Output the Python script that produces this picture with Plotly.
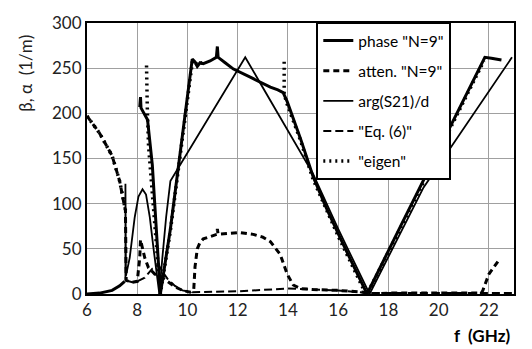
import plotly.graph_objects as go

# ---------------- data ----------------
phase_f = [6.0, 6.5, 7.0, 7.3, 7.5, None,
           8.10, 8.13, 8.15, 8.41, 8.6, 8.72, 8.84, 8.92, 9.32, 9.8, 10.19, 10.3, 10.39, 10.5, 10.63,
           10.9, 11.15, 11.19, 11.22, 11.5, 11.83, 12.5, 13.3, 13.6, 13.81, 13.97, 14.5, 15.0, 15.5, 16.08,
           16.5, 16.87, 17.15, 18.5, 20.0, 21.0, 21.84, 22.1, 22.5]
phase_b = [0, 1, 4, 9, 14, None,
           207, 218, 206, 193, 143, 90, 36, 0, 72, 175, 260, 257, 252, 256, 255,
           258, 262, 274, 262, 256, 249, 240, 229, 226, 223, 213, 172, 130, 97, 62,
           37, 15, 0, 76, 160, 216, 262, 261, 259]

atten_f = [6.0, 6.5, 7.0, 7.3, 7.5, 7.53, 7.56, 7.8, 8.0, 8.1, 8.13, 8.2, 8.3, 8.45, 8.7, 8.9, 9.2, 9.5, 9.8,
           10.1, 10.25, 10.3, 10.39, 10.5, 10.63, 11.0, 11.17, 11.19, 11.22, 11.6, 12.1, 12.62, 13.0, 13.3,
           13.69, 13.97, 14.21, 14.5, 15.0, 16.0, 17.0, 17.2, 18.0, 20.0, 21.7, 21.76, 22.0, 22.36]
atten_a = [197, 178, 153, 125, 96, 93, 15, 13, 14, 40, 60, 52, 40, 29, 22, 20, 14, 8, 4,
           2, 5, 30, 50, 57, 61, 64, 66, 72, 66, 67, 68, 66, 63, 58,
           44, 22, 10, 6, 5, 4, 2, 0, 1, 1, 1, 4, 22, 36]

arg_f = [7.53, 7.53, 7.55, 7.7, 7.9, 8.05, 8.21, 8.35, 8.5, 8.65, 8.8, 8.88, 9.0, 9.15, 9.32,
         12.3, 13.45, 15.0, 16.0, 17.25, 19.4, 22.92]
arg_b = [15, 122, 20, 40, 85, 108, 116, 110, 85, 50, 15, 0, 40, 85, 125,
         262, 207, 133, 72, 0, 118, 262]

eq6_f = [7.56, 7.8, 8.0, 8.3, 8.6, 8.85, 9.0, 9.2, 9.5, 9.8, 10.2, 12.0, 14.0, 15.0, 16.0, 17.2, 20.0, 23.0]
eq6_a = [15, 13, 14, 18, 28, 32, 25, 17, 9, 4, 2, 3, 6, 5, 4, 1, 1, 1]

eigen_f = [6.0, 6.5, 7.0, 7.3, 7.53, None,
           8.37, 8.37, 8.40, 8.45, 8.6, 8.72, 8.84, 8.92, 9.32, 9.8, 10.15, 10.2, 10.4, 10.6, None,
           13.85, 13.85, 13.97, 14.5, 15.0, 16.0, 17.1, 17.15, 18.5, 20.0, 21.0, 21.8]
eigen_b = [197, 178, 153, 125, 93, None,
           253, 230, 207, 164, 111, 68, 26, 0, 70, 173, 250, 258, 254, 256, None,
           257, 221, 210, 170, 127, 64, 0, 0, 74, 158, 213, 258]

x_ticks = [6, 8, 10, 12, 14, 16, 18, 20, 22]
y_ticks = [0, 50, 100, 150, 200, 250, 300]

# ---------------- figure ----------------
FONT = "Lato"
fig = go.Figure()

fig.add_trace(go.Scatter(x=phase_f, y=phase_b, mode="lines", name='phase "N=9"', legendgroup="a",
                         line=dict(color="black", width=3)))
fig.add_trace(go.Scatter(x=atten_f, y=atten_a, mode="lines", name='atten. "N=9"', legendgroup="b",
                         line=dict(color="black", width=3, dash="6px,4px")))
fig.add_trace(go.Scatter(x=arg_f, y=arg_b, mode="lines", name="arg(S21)/d", legendgroup="c",
                         line=dict(color="black", width=1.8)))
fig.add_trace(go.Scatter(x=eq6_f, y=eq6_a, mode="lines", name='"Eq. (6)"', legendgroup="d",
                         line=dict(color="black", width=2, dash="8px,4px")))
fig.add_trace(go.Scatter(x=eigen_f, y=eigen_b, mode="lines", name='"eigen"', legendgroup="e",
                         line=dict(color="black", width=3.5, dash="2px,4px")))

fig.update_layout(
    width=532, height=349,
    margin=dict(l=86.5, r=18, t=13, b=55),
    paper_bgcolor="white", plot_bgcolor="white",
    font=dict(family=FONT, size=17, color="#222"),
    showlegend=True,
    legend=dict(x=0.537, y=1.004, xanchor="left", yanchor="top",
                bgcolor="white", bordercolor="black", borderwidth=2,
                font=dict(family=FONT, size=15.5, color="black"),
                tracegroupgap=7, itemwidth=30),
    xaxis=dict(range=[6, 23], tickvals=x_ticks, ticktext=[str(v) for v in x_ticks],
               showgrid=True, gridcolor="#a0a0a0", gridwidth=1,
               showline=True, linecolor="black", linewidth=2, mirror=True,
               ticks="", zeroline=False, tickfont=dict(size=17, color="#222")),
    yaxis=dict(range=[0, 300], tickvals=y_ticks, ticktext=[str(v) for v in y_ticks],
               showgrid=True, gridcolor="#a0a0a0", gridwidth=1,
               showline=True, linecolor="black", linewidth=2, mirror=True,
               ticks="", zeroline=False, tickfont=dict(size=17, color="#222")),
    annotations=[
        dict(text="β, α  (1/m)", xref="paper", yref="paper", x=-0.144, y=0.964,
             textangle=-90, showarrow=False, xanchor="center", yanchor="top",
             font=dict(family=FONT, size=17, color="#222")),
        dict(text="<b>f  (GHz)</b>", xref="paper", yref="paper", x=0.925, y=-0.153,
             showarrow=False, xanchor="center", yanchor="middle",
             font=dict(family=FONT, size=17, color="black")),
    ],
)

fig.write_html("out.html")
